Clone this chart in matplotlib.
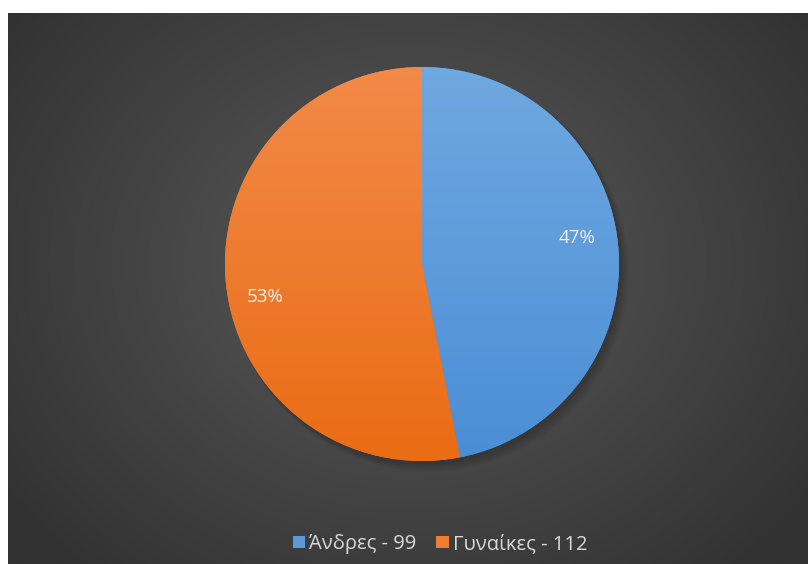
import numpy as np
import matplotlib
matplotlib.use("Agg")
import matplotlib.pyplot as plt
from matplotlib.patches import Patch
from matplotlib.colors import LinearSegmentedColormap

categories = ["Άνδρες", "Γυναίκες"]
values = [99, 112]
legend_labels = ["Άνδρες - 99", "Γυναίκες - 112"]
colors_top = ["#70a8e0", "#f28a48"]
colors_bot = ["#4a8ed6", "#ea6c14"]
colors_mid = ["#5b9bd5", "#ed7d31"]

plt.rcParams['font.family'] = ['Open Sans', 'Noto Sans', 'DejaVu Sans']

W, H = 808, 564
fig = plt.figure(figsize=(W / 100, H / 100), dpi=100)
fig.patch.set_facecolor("white")

# background with radial gradient
bg = fig.add_axes([8 / W, 0, 1 - 8 / W, (H - 13) / H])
bg.set_axis_off()
ny, nx = 300, 440
yy, xx = np.mgrid[0:ny, 0:nx]
cx, cy = nx * 0.5, ny * 0.45
r = np.sqrt(((xx - cx) / (nx * 0.62)) ** 2 + ((yy - cy) / (ny * 0.75)) ** 2)
r = np.clip(r, 0, 1)
c_center = np.array([0x5a, 0x5a, 0x5a]) / 255
c_edge = np.array([0x32, 0x32, 0x32]) / 255
img = c_center[None, None, :] * (1 - r[..., None]) + c_edge[None, None, :] * r[..., None]
bg.imshow(img, extent=[0, 1, 0, 1], aspect='auto', interpolation='bilinear')
bg.set_xlim(0, 1)
bg.set_ylim(0, 1)

# pie
cxp, cyp, rad = 422, 264, 197
ax = fig.add_axes([(cxp - rad) / W, (H - cyp - rad) / H, 2 * rad / W, 2 * rad / H])
ax.set_axis_off()

# soft shadow
for k, a in enumerate([0.05, 0.05, 0.05, 0.05]):
    sh = plt.Circle((0.015 + 0.006 * k, -0.02 - 0.006 * k), 1.0 + 0.005 * k,
                    color="black", alpha=a, lw=0, zorder=0)
    ax.add_patch(sh)

wedges, texts, autotexts = ax.pie(
    values, startangle=90, counterclock=False, colors=colors_mid,
    autopct='%1.0f%%', pctdistance=0.8,
    textprops=dict(color="#f2f2f2", fontsize=13.5),
    wedgeprops=dict(linewidth=0))

# vertical gradients clipped to wedges
for w, ct, cb in zip(wedges, colors_top, colors_bot):
    cmap = LinearSegmentedColormap.from_list("g", [cb, ct])
    grad = np.linspace(0, 1, 256).reshape(-1, 1)
    im = ax.imshow(grad, extent=[-1, 1, -1, 1], origin='lower', cmap=cmap,
                   aspect='auto', zorder=1, interpolation='bilinear')
    im.set_clip_path(w)
for t in autotexts:
    t.set_zorder(5)

# label placement similar to reference
autotexts[0].set_position((0.787, 0.13))
autotexts[1].set_position((-0.797, -0.168))

ax.set_xlim(-1.06, 1.06)
ax.set_ylim(-1.06, 1.06)
ax.set_position([(cxp - rad * 1.06) / W, (H - cyp - rad * 1.06) / H,
                 2 * rad * 1.06 / W, 2 * rad * 1.06 / H])

handles = [Patch(facecolor=c, edgecolor='none') for c in colors_mid]
leg = fig.legend(handles, legend_labels, loc='center',
                 bbox_to_anchor=(440 / W, (H - 544) / H), ncol=2, frameon=False,
                 handlelength=0.6, handleheight=0.6, handletextpad=0.2,
                 columnspacing=1.0, fontsize=14.5, labelcolor="#d9d9d9")

fig.savefig("out.png", dpi=100, facecolor=fig.get_facecolor())
